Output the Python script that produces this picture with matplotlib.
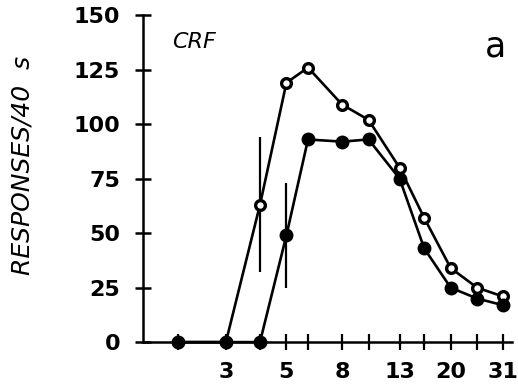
import matplotlib
matplotlib.use("Agg")
import matplotlib.pyplot as plt
from matplotlib.ticker import FixedLocator, FixedFormatter, NullLocator

# sessions (log spaced) and response rates for the two groups
sessions = [2, 3, 4, 5, 6, 8, 10, 13, 16, 20, 25, 31]
open_resp = [0, 0, 63, 119, 126, 109, 102, 80, 57, 34, 25, 21]
filled_resp = [0, 0, 0, 49, 93, 92, 93, 75, 43, 25, 20, 17]

# single error bars drawn on the rising limb
open_err_x, open_err_y, open_err = [4], [63], [31]
filled_err_x, filled_err_y, filled_err = [5], [49], [24]

x_ticks = [2, 3, 4, 5, 6, 8, 10, 13, 16, 20, 25, 31]
x_labels = ["", "3", "", "5", "", "8", "", "13", "", "20", "", "31"]
y_ticks = [0, 25, 50, 75, 100, 125, 150]

plt.rcParams["font.family"] = ["DejaVu Sans"]

fig = plt.figure(figsize=(5.18, 3.91), dpi=100)
ax = fig.add_axes([0.276, 0.125, 0.712, 0.836])

ax.errorbar(open_err_x, open_err_y, yerr=open_err, fmt="none",
            ecolor="black", elinewidth=1.6, capsize=0, zorder=2)
ax.errorbar(filled_err_x, filled_err_y, yerr=filled_err, fmt="none",
            ecolor="black", elinewidth=1.6, capsize=0, zorder=2)

ax.plot(sessions, open_resp, color="black", lw=1.9, marker="o",
        markersize=7, markerfacecolor="white", markeredgecolor="black",
        markeredgewidth=2.4, clip_on=False, zorder=3)
ax.plot(sessions, filled_resp, color="black", lw=1.9, marker="o",
        markersize=9, markerfacecolor="black", markeredgecolor="black",
        clip_on=False, zorder=4)

ax.set_xscale("log")
ax.set_xlim(1.49, 33.5)
ax.set_ylim(0, 150)

ax.xaxis.set_major_locator(FixedLocator(x_ticks))
ax.xaxis.set_major_formatter(FixedFormatter(x_labels))
ax.xaxis.set_minor_locator(NullLocator())
ax.set_yticks(y_ticks)

for side in ("top", "right"):
    ax.spines[side].set_visible(False)
for side in ("left", "bottom"):
    ax.spines[side].set_linewidth(1.8)

ax.tick_params(axis="y", direction="inout", length=11, width=1.8,
               labelsize=16, pad=11)
ax.tick_params(axis="x", direction="inout", length=12, width=1.6,
               labelsize=16, pad=8)
for lab in ax.get_xticklabels() + ax.get_yticklabels():
    lab.set_fontweight("bold")

ax.set_ylabel("RESPONSES/40  s", fontsize=18, style="italic")
ax.yaxis.set_label_coords(-0.293, 0.54)

ax.text(0.079, 0.917, "CRF", transform=ax.transAxes, fontsize=16,
        style="italic", va="center", ha="left")
ax.text(0.957, 0.905, "a", transform=ax.transAxes, fontsize=25,
        va="center", ha="center")

fig.savefig("out.png", dpi=100)
